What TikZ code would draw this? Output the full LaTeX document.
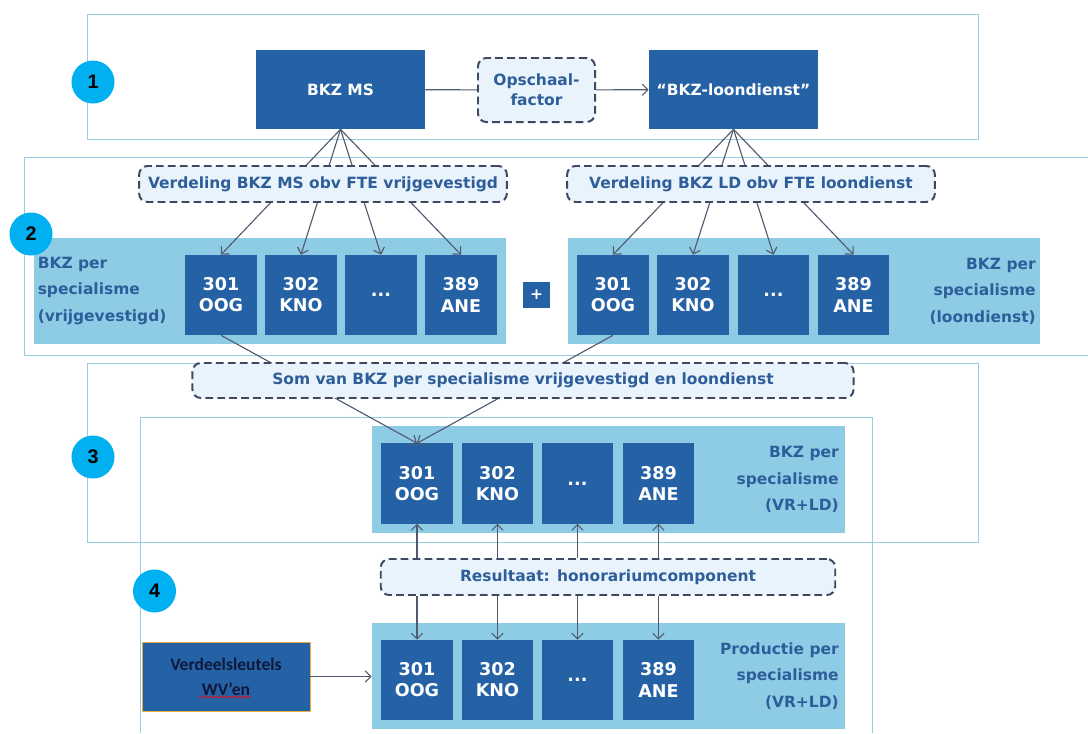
\documentclass[tikz,border=0pt]{standalone}
\usepackage{fontspec}
\setmainfont{DejaVu Sans}
\newfontfamily\calfont{Carlito}
\newfontfamily\arialfont{Liberation Sans}
\usetikzlibrary{arrows.meta,decorations.pathmorphing}

\definecolor{boxblue}{RGB}{37,97,165}
\definecolor{panelblue}{RGB}{142,204,230}
\definecolor{framecol}{RGB}{150,205,225}
\definecolor{dashfill}{RGB}{233,243,251}
\definecolor{dashline}{RGB}{62,72,96}
\definecolor{textblue}{RGB}{46,94,154}
\definecolor{linecol}{RGB}{80,90,110}
\definecolor{numcyan}{RGB}{0,176,240}
\definecolor{keyborder}{RGB}{235,175,60}

\begin{document}
\begin{tikzpicture}[x=0.025cm, y=0.025cm, >={Straight Barb[length=4pt,width=8pt]}]
	\tikzstyle{every node}+=[inner sep=0pt]
	\tikzstyle{frame}=[framecol, line width=0.7pt]
	\tikzstyle{darkbox}=[fill=boxblue, text=white, font=\bfseries\fontsize{11}{14}\selectfont, align=center]
	\tikzstyle{spec}=[darkbox, minimum width=1.775cm, minimum height=2cm, font=\bfseries\fontsize{12.5}{15}\selectfont]
	\tikzstyle{panel}=[fill=panelblue, minimum width=11.8cm, minimum height=2.65cm]
	\tikzstyle{dashbox}=[fill=dashfill, draw=dashline, line width=1.4pt, dash pattern=on 5.5pt off 3pt, rounded corners=6pt, text=textblue, font=\bfseries\fontsize{11}{14}\selectfont, align=center]
	\tikzstyle{sidelabel}=[text=textblue, font=\bfseries\fontsize{11}{18.8}\selectfont]
	\tikzstyle{num}=[circle, fill=numcyan, minimum size=1.075cm, font=\arialfont\bfseries\fontsize{14}{14}\selectfont]
	\tikzstyle{link}=[linecol, line width=0.8pt]
	\useasboundingbox (0,0) rectangle (1088,-733);
	% frames of the four steps
	\draw [frame] (87,-14) rectangle (978,-139);
	\draw [frame] (1088,-157) -- (24,-157) -- (24,-355) -- (1088,-355);
	\draw [frame] (87,-363) rectangle (978,-542);
	\draw [frame] (140.5,-733) -- (140.5,-417) -- (872,-417) -- (872,-733);
	% step 1
	\node [darkbox, minimum width=4.225cm, minimum height=1.975cm] (bkzms) at (340.5,-89.5) {BKZ MS};
	\node [darkbox, minimum width=4.225cm, minimum height=1.975cm] (bkzld) at (733.5,-89.5) {“BKZ-loondienst”};
	\node [dashbox, minimum width=2.925cm, minimum height=1.6cm] (opschaal) at (536.5,-90) {Opschaal-\\factor};
	\draw [link] (bkzms) -- (opschaal);
	\draw [link,->] (opschaal) -- (bkzld);
	% step 2
	\node [panel] (vgpanel) at (270,-291) {};
	\node [panel] (ldpanel) at (804,-291) {};
	\node [sidelabel, anchor=west, align=left] (vglabel) at (37.5,-291) {BKZ per\\specialisme\\(vrijgevestigd)};
	\node [sidelabel, anchor=east, align=right] (ldlabel) at (1036,-291) {BKZ per\\specialisme\\(loondienst)};
	\node [spec] (vg301) at (221,-295) {301\\OOG};
	\node [spec] (vg302) at (301,-295) {302\\KNO};
	\node [spec] (vgdots) at (381,-295) {...};
	\node [spec] (vg389) at (461,-295) {389\\ANE};
	\node [spec] (ld301) at (613,-295) {301\\OOG};
	\node [spec] (ld302) at (693,-295) {302\\KNO};
	\node [spec] (lddots) at (773.5,-295) {...};
	\node [spec] (ld389) at (853.5,-295) {389\\ANE};
	\node [darkbox, minimum width=0.675cm, minimum height=0.65cm] (plus) at (536.5,-295) {+};
	\draw [link,->] (bkzms.south) -- (vg301.north);
	\draw [link,->] (bkzms.south) -- (vg302.north);
	\draw [link,->] (bkzms.south) -- (vgdots.north);
	\draw [link,->] (bkzms.south) -- (vg389.north);
	\draw [link,->] (bkzld.south) -- (ld301.north);
	\draw [link,->] (bkzld.south) -- (ld302.north);
	\draw [link,->] (bkzld.south) -- (lddots.north);
	\draw [link,->] (bkzld.south) -- (ld389.north);
	\node [dashbox, minimum width=9.19cm, minimum height=0.9cm] (vgverdeling) at (323,-184) {Verdeling BKZ MS obv FTE vrijgevestigd};
	\node [dashbox, minimum width=9.19cm, minimum height=0.9cm] (ldverdeling) at (751,-184) {Verdeling BKZ LD obv FTE loondienst};
	% step 3
	\node [panel, minimum width=11.81cm, minimum height=2.675cm] (totpanel) at (608.25,-479.5) {};
	\node [sidelabel, anchor=east, align=right] (totlabel) at (839,-479.5) {BKZ per\\specialisme\\(VR+LD)};
	\node [spec] (tot301) at (417,-483.5) {301\\OOG};
	\node [spec] (tot302) at (497.5,-483.5) {302\\KNO};
	\node [spec] (totdots) at (577.5,-483.5) {...};
	\node [spec] (tot389) at (658.5,-483.5) {389\\ANE};
	\draw [link,->] (vg301.south) -- (tot301.north);
	\draw [link,->] (ld301.south) -- (tot301.north);
	\node [dashbox, minimum width=16.525cm, minimum height=0.875cm] (som) at (523,-380.5) {Som van BKZ per specialisme vrijgevestigd en loondienst};
	% step 4
	\node [panel, minimum width=11.81cm] (prodpanel) at (608.25,-676) {};
	\node [sidelabel, anchor=east, align=right] (prodlabel) at (839,-676) {Productie per\\specialisme\\(VR+LD)};
	\node [spec] (prod301) at (417,-680) {301\\OOG};
	\node [spec] (prod302) at (497.5,-680) {302\\KNO};
	\node [spec] (proddots) at (577.5,-680) {...};
	\node [spec] (prod389) at (658.5,-680) {389\\ANE};
	\node [dashbox, minimum width=11.36cm, minimum height=0.9cm] (resultaat) at (608,-577) {Resultaat: honorariumcomponent};
	\draw [link,->] (tot301 |- resultaat.north) -- (tot301.south);
	\draw [link,->] (tot302 |- resultaat.north) -- (tot302.south);
	\draw [link,->] (totdots |- resultaat.north) -- (totdots.south);
	\draw [link,->] (tot389 |- resultaat.north) -- (tot389.south);
	\draw [link,->] (prod301 |- resultaat.south) -- (prod301.north);
	\draw [link,->] (prod302 |- resultaat.south) -- (prod302.north);
	\draw [link,->] (proddots |- resultaat.south) -- (proddots.north);
	\draw [link,->] (prod389 |- resultaat.south) -- (prod389.north);
	\node [fill=boxblue, draw=keyborder, line width=0.6pt, minimum width=4.2cm, minimum height=1.725cm, text={rgb,255:red,15;green,25;blue,60}, font=\calfont\bfseries\fontsize{12.5}{17.7}\selectfont, align=center] (sleutels) at (226,-676.5) {Verdeelsleutels\\WV’en};
	\draw [red, line width=0.4pt, decorate, decoration={snake, amplitude=0.7pt, segment length=2.5pt}] (199,-697) -- (251,-697);
	\draw [link,->] (sleutels.east) -- (sleutels.east -| prodpanel.west);
	% step numbers
	\node [num] (n1) at (93,-82) {1};
	\node [num] (n2) at (31,-234) {2};
	\node [num] (n3) at (93,-457) {3};
	\node [num] (n4) at (154.5,-591) {4};
\end{tikzpicture}
\end{document}
